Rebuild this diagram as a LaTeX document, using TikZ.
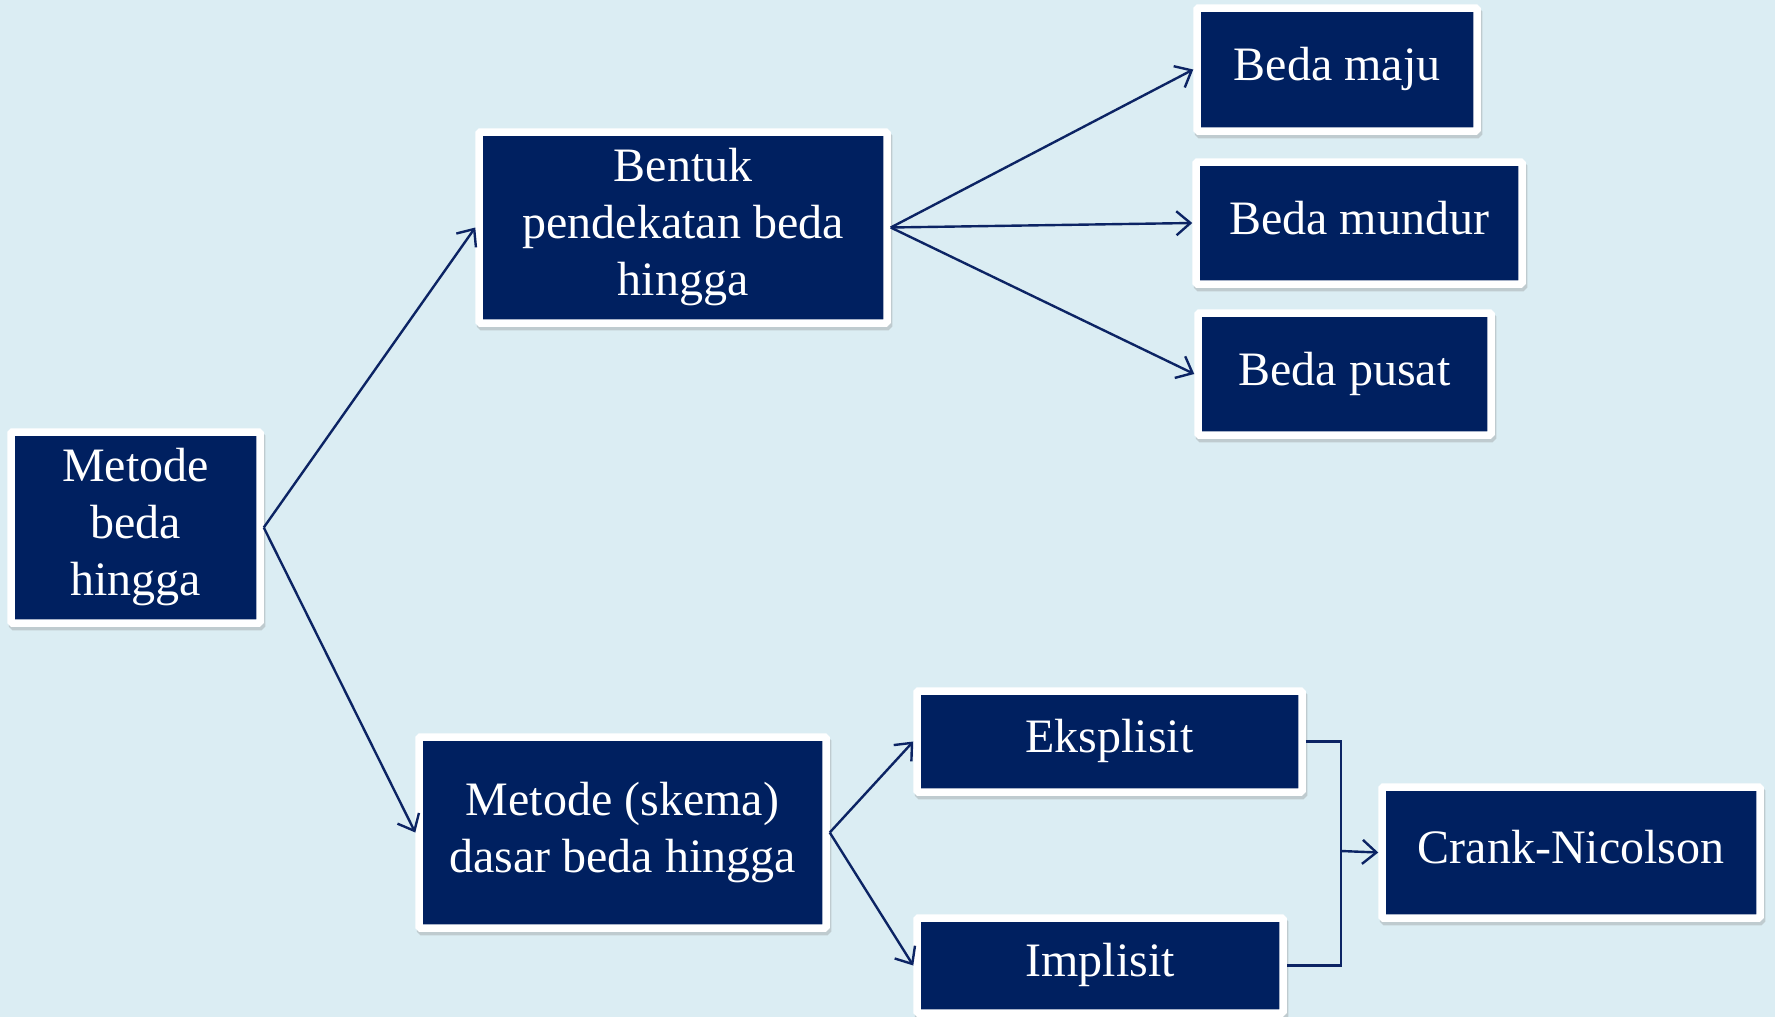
\documentclass[tikz,border=0pt]{standalone}
\usepackage{fontspec}
\setmainfont{Liberation Serif}
\usetikzlibrary{arrows.meta,shadows}
\definecolor{bgblue}{RGB}{219,237,243}
\definecolor{navy}{RGB}{0,32,96}
\definecolor{linenavy}{RGB}{12,36,100}
\tikzset{
  fbox/.style={rectangle, fill=navy, draw=white, line width=7.5pt, rounded corners=1.5pt,
    inner sep=0pt, align=center, text=white, font=\fontsize{48}{57}\selectfont,
    general shadow={fill=black!45, draw=black!45, line width=7.5pt, shadow xshift=1.5pt, shadow yshift=-3.5pt, opacity=0.35}},
  oneline/.style={text height=33pt, text depth=10.5pt},
  conn/.style={draw=linenavy, line width=2.4pt},
  arr/.style={conn, -{Straight Barb[length=14pt,width=24pt,line width=2.4pt]}}
}
\begin{document}
\begin{tikzpicture}[x=1pt,y=-1pt]
\useasboundingbox (0,0) rectangle (1775,1017);
\fill[bgblue] (0,0) rectangle (1775,1017);

\node[fbox, minimum width=249pt, minimum height=191pt] (m) at (135.5,527.5) {Metode\\beda\\hingga};
\node[fbox, minimum width=408pt, minimum height=191pt] (b) at (683,227.5) {Bentuk\\pendekatan beda\\hingga};
\node[fbox, oneline, minimum width=280pt, minimum height=123pt] (maju) at (1337,69.5) {Beda maju};
\node[fbox, oneline, minimum width=326pt, minimum height=122pt] (mundur) at (1359,223) {Beda mundur};
\node[fbox, oneline, minimum width=293pt, minimum height=122pt] (pusat) at (1344.5,374) {Beda pusat};
\node[fbox, minimum width=407pt, minimum height=191pt] (s) at (622.5,832.5) {Metode (skema)\\dasar beda hingga};
\node[fbox, oneline, minimum width=385pt, minimum height=101pt] (eks) at (1109.5,741.5) {Eksplisit};
\node[fbox, oneline, minimum width=366pt, minimum height=95pt] (imp) at (1100,965.5) {Implisit};
\node[fbox, oneline, minimum width=378pt, minimum height=131pt] (cn) at (1571,852.5) {Crank-Nicolson};

\coordinate (j) at (1341,851);

\draw[arr] (m.east) -- (b.west);
\draw[arr] (m.east) -- (s.west);
\draw[arr] (b.east) -- (maju.west);
\draw[arr] (b.east) -- (mundur.west);
\draw[arr] (b.east) -- (pusat.west);
\draw[arr] (s.east) -- (eks.west);
\draw[arr] (s.east) -- (imp.west);
\draw[conn] (eks.east) -| (j) |- (imp.east);
\draw[arr] (j) -- (cn.west);
\end{tikzpicture}
\end{document}
